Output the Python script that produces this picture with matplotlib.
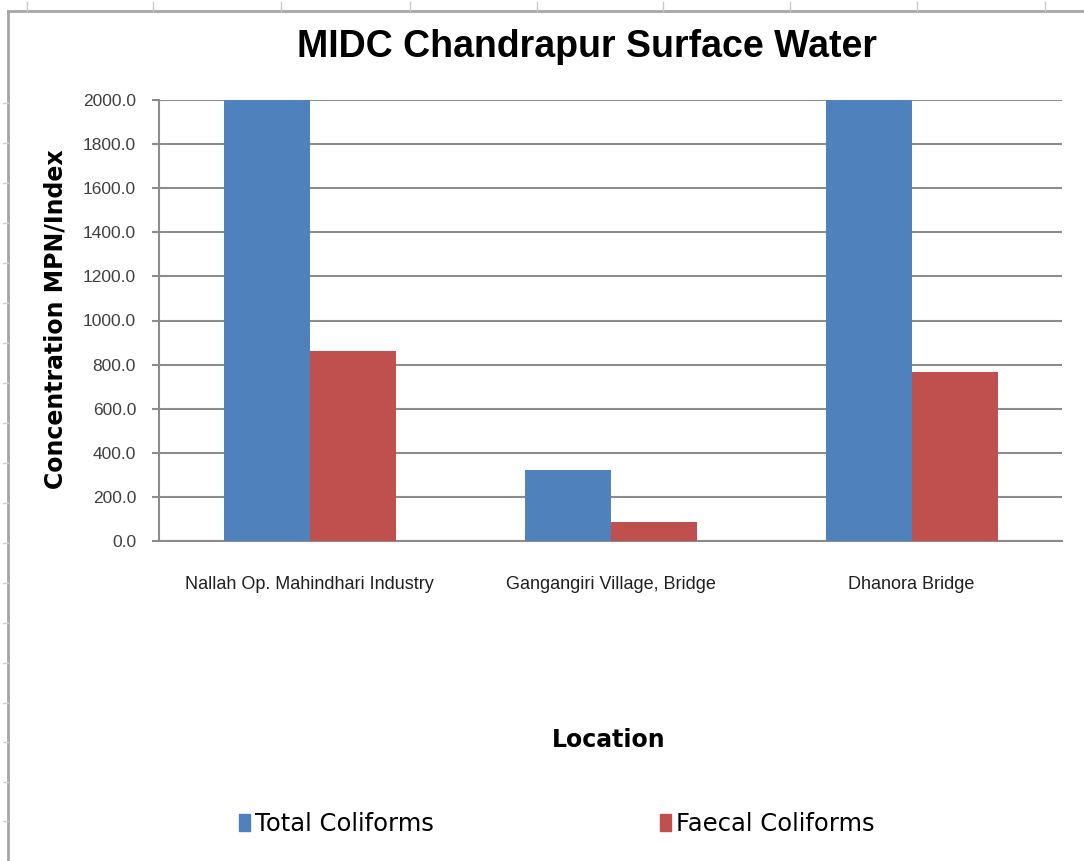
import matplotlib
matplotlib.use("Agg")
import matplotlib.pyplot as plt
from matplotlib.lines import Line2D
from matplotlib.patches import Rectangle
import numpy as np

locations = ["Nallah Op. Mahindhari Industry", "Gangangiri Village, Bridge", "Dhanora Bridge"]
total_coliforms = [2000.0, 320.0, 2000.0]
faecal_coliforms = [860.0, 88.0, 765.0]
y_ticks = [0, 200, 400, 600, 800, 1000, 1200, 1400, 1600, 1800, 2000]

BLUE = "#4F81BD"
RED = "#C0504D"
GRID = "#8c8c8c"
NARROW = "Liberation Sans"

fig = plt.figure(figsize=(10.84, 8.61), dpi=100)
W, H = 1084, 861

# sheet border and column/row marks behind the chart
fig.add_artist(Line2D([8 / W, 8 / W], [0, 1 - 11 / H], transform=fig.transFigure, color="#a6a6a6", lw=2))
fig.add_artist(Line2D([8 / W, 1], [1 - 11 / H, 1 - 11 / H], transform=fig.transFigure, color="#a6a6a6", lw=2))
for cx in [27, 153, 281, 410, 537, 663, 790, 917, 1045]:
    fig.add_artist(Line2D([cx / W, cx / W], [1 - 11 / H, 1 - 2 / H], transform=fig.transFigure, color="#c8c8c8", lw=1))
for ry in [103, 143, 183, 223, 263, 303, 343, 383, 423, 463, 503, 543, 583, 623, 663, 703, 742, 782, 821]:
    fig.add_artist(Line2D([3 / W, 8 / W], [1 - ry / H, 1 - ry / H], transform=fig.transFigure, color="#d0d0d0", lw=1))

ax = fig.add_axes([159 / W, 1 - 541 / H, (1062 - 159) / W, 441 / H])

x = np.arange(len(locations))
w = 1 / 3.5
ax.bar(x - w / 2, total_coliforms, w, color=BLUE, label="Total Coliforms", zorder=3)
ax.bar(x + w / 2, faecal_coliforms, w, color=RED, label="Faecal Coliforms", zorder=3)

ax.set_xlim(-0.5, len(locations) - 0.5)
ax.set_ylim(0, 2000)
ax.set_yticks(y_ticks)
ax.set_yticklabels([f"{v:.1f}" for v in y_ticks], fontfamily=NARROW, fontsize=12.5, color="#404040")
ax.set_xticks(x)
ax.set_xticklabels(locations, fontfamily=NARROW, fontsize=13, color="#202020")
ax.tick_params(axis="y", length=5, width=1.5, color=GRID, pad=11.5)
ax.tick_params(axis="x", length=0, pad=25)
ax.yaxis.grid(True, color=GRID, lw=1.5, zorder=0)
ax.set_axisbelow(True)
for side in ["top", "right"]:
    ax.spines[side].set_visible(False)
ax.spines["left"].set_color(GRID)
ax.spines["left"].set_linewidth(1.5)
ax.spines["bottom"].set_color(GRID)
ax.spines["bottom"].set_linewidth(1.5)

fig.text(587 / W, 1 - 47 / H, "MIDC Chandrapur Surface Water", ha="center", va="center",
         fontsize=27, fontweight="bold", fontfamily=NARROW)
fig.text(56 / W, 1 - 319 / H, "Concentration MPN/Index", ha="center", va="center", rotation=90,
         fontsize=17, fontweight="bold")
fig.text(609 / W, 1 - 740 / H, "Location", ha="center", va="center", fontsize=17, fontweight="bold")

handles = [Rectangle((0, 0), 1, 1, color=BLUE), Rectangle((0, 0), 1, 1, color=RED)]
fig.legend(handles, ["Total Coliforms", "Faecal Coliforms"], loc="center", bbox_to_anchor=(557 / W, 1 - 824 / H),
           ncol=2, frameon=False, fontsize=17.5, handlelength=0.45, handleheight=0.7, handletextpad=0.2,
           columnspacing=9.3)

fig.savefig("out.png", dpi=100)
